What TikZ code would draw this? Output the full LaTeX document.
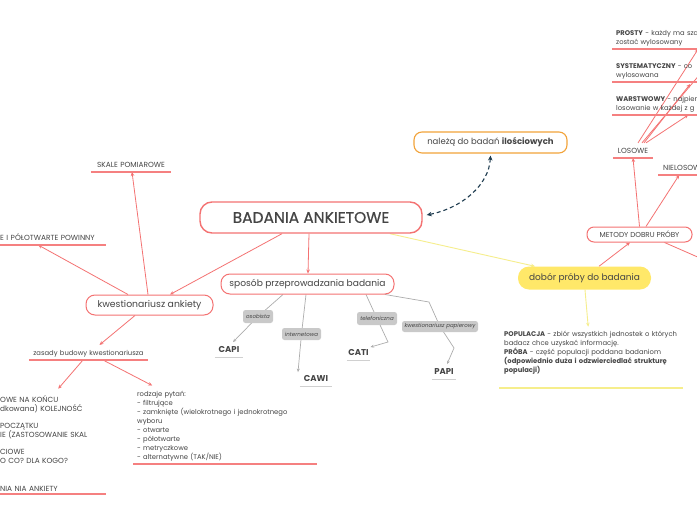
\documentclass[tikz,border=0pt]{standalone}
\usepackage{fontspec}
\setmainfont{Poppins}
\newfontfamily\medfont{Poppins}[FakeBold=0.7]
\usetikzlibrary{arrows.meta,backgrounds}
\definecolor{myred}{HTML}{F47272}
\definecolor{ulred}{HTML}{F58080}
\definecolor{txt}{HTML}{454545}
\definecolor{gline}{HTML}{ADADAD}
\definecolor{glab}{HTML}{C9C9C9}
\definecolor{ulgray}{HTML}{D0D0D0}
\definecolor{myyellow}{HTML}{FFE869}
\definecolor{yline}{HTML}{F6EE8C}
\definecolor{myorange}{HTML}{F2A33A}
\definecolor{navy}{HTML}{1D3B4F}
\newcommand\myfs[2]{\fontsize{#1}{#2}\selectfont}
\tikzset{
  mainbox/.style={draw=myred, line width=1.4pt, fill=white, rounded corners=12pt, minimum width=222pt, minimum height=31pt, inner sep=0pt, font=\medfont\myfs{15.5}{18}, text=txt},
  obox/.style={draw=myorange, line width=1.1pt, fill=white, rounded corners=8pt, minimum width=153pt, minimum height=21pt, inner sep=0pt, font=\myfs{8.5}{10}, text=txt},
  rbox/.style={draw=myred, line width=1pt, fill=white, rounded corners=9pt, inner sep=0pt, text=txt},
  ybox/.style={fill=myyellow, rounded corners=11pt, inner sep=0pt, text=txt},
  ulline/.style={draw=ulred, line width=1.1pt},
  ullineY/.style={draw=yline, line width=1.3pt},
  ullineG/.style={draw=ulgray, line width=1pt},
  ul/.style={inner xsep=0pt, inner ysep=2.5pt, text width=#1, text=txt,
    append after command={(\tikzlastnode.south west) edge[ulline] (\tikzlastnode.south east)}},
  uly/.style={inner xsep=0pt, inner ysep=2.5pt, text width=#1, text=txt,
    append after command={(\tikzlastnode.south west) edge[ullineY] (\tikzlastnode.south east)}},
  ulg/.style={inner xsep=0pt, inner ysep=2.5pt, text depth=1.5pt, text width=#1, text=txt, align=center,
    font=\myfs{8.5}{10}\bfseries,
    append after command={(\tikzlastnode.south west) edge[ullineG] (\tikzlastnode.south east)}},
  glabel/.style={fill=glab, rounded corners=2.5pt, inner sep=0pt, font=\myfs{5.5}{6}\itshape, text=txt},
  capfont/.style={font=\myfs{7.4}{9}},
  smallfont/.style={font=\myfs{6.8}{9}},
  rarr/.style={draw=myred, line width=0.8pt, -{Stealth[length=4pt,width=3.5pt]}},
  garr/.style={draw=gline, line width=0.7pt, -{Stealth[length=3.5pt,width=3pt]}},
  yarr/.style={draw=yline, line width=0.9pt, -{Stealth[length=4pt,width=3.5pt]}},
}
\begin{document}
\begin{tikzpicture}[x=1pt,y=-1pt]
\useasboundingbox (0,0) rectangle (697,520);
\begin{scope}[on background layer]
  \fill[white] (0,0) rectangle (697,520);
\end{scope}

% main nodes
\node[mainbox] (main) at (311,217.5) {BADANIA ANKIETOWE};
\node[obox] (ilosc) at (490.5,142.5) {należą do badań \textbf{ilościowych}};
\node[rbox, minimum width=173pt, minimum height=20pt, font=\myfs{9.1}{11}] (sposob) at (307.5,284) {sposób przeprowadzania badania};
\node[rbox, minimum width=127pt, minimum height=20pt, font=\myfs{9.3}{11}] (kw) at (149.5,305) {kwestionariusz ankiety};
\node[rbox, minimum width=105pt, minimum height=15pt, rounded corners=7pt, font=\myfs{7.2}{8}] (metody) at (639.5,234.5) {METODY DOBRU PRÓBY};
\node[ybox, minimum width=133pt, minimum height=23pt, font=\myfs{9}{11}] (dobor) at (584.5,278) {dobór próby do badania};

% underlined text nodes
\node[ul=80pt, align=center, anchor=south, capfont, text depth=1.5pt] (skale) at (131,172) {SKALE POMIAROWE};
\node[ul=106pt, align=left, anchor=south west, capfont, text depth=1.5pt] (powin) at (0,245) {E I PÓŁOTWARTE POWINNY};
\node[ul=119pt, align=center, anchor=south, smallfont, text depth=1.5pt] (zasady) at (88.5,360) {zasady budowy kwestionariusza};
\node[ul=106pt, align=left, anchor=south west, capfont] (lewy) at (0,494) {OWE NA KOŃCU\\dkowana) KOLEJNOŚĆ\\[8pt]POCZĄTKU\\IE (ZASTOSOWANIE SKAL\\[8pt]CIOWE\\O CO? DLA KOGO?\\[19pt]NIA NIA ANKIETY};
\node[ul=176pt, inner xsep=4pt, align=left, anchor=south west, smallfont] (rodz) at (133,464) {rodzaje pytań:\\- filtrujące\\- zamknięte (wielokrotnego i jednokrotnego\\wyboru\\- otwarte\\- półotwarte\\- metryczkowe\\- alternatywne (TAK/NIE)};
\node[uly=174pt, inner xsep=5pt, align=left, anchor=south west, smallfont] (popul) at (499,388) {\textbf{POPULACJA} - zbiór wszystkich jednostek o których\\badacz chce uzyskać informację.\\\textbf{PRÓBA} - część populacji poddana badaniom\\\textbf{(odpowiednio duża i odzwierciedlać strukturę}\\\textbf{populacji)}\\[3.5pt]\mbox{}};
\node[ul=120pt, inner xsep=4pt, align=left, anchor=south west, smallfont] (prosty) at (612,49) {\textbf{PROSTY} - każdy ma sza\\zostać wylosowany};
\node[ul=120pt, inner xsep=4pt, align=left, anchor=south west, smallfont] (syst) at (612,82) {\textbf{SYSTEMATYCZNY} - co\\wylosowana};
\node[ul=120pt, inner xsep=4pt, align=left, anchor=south west, smallfont] (warst) at (612,115) {\textbf{WARSTWOWY} - najpier\\losowanie w każdej z g};
\node[ul=40pt, align=center, anchor=south, capfont, text depth=1.5pt] (losowe) at (633,158) {LOSOWE};
\node[ul=60pt, inner xsep=5pt, align=left, anchor=south west, capfont, text depth=1.5pt] (nielos) at (658,175) {NIELOSOWE};

\node[ulg=28pt, anchor=south] (capi) at (229,357) {CAPI};
\node[ulg=32pt, anchor=south] (cawi) at (316,386) {CAWI};
\node[ulg=23pt, anchor=south] (cati) at (358.5,360) {CATI};
\node[ulg=24pt, anchor=south] (papi) at (444,379) {PAPI};

% helper coordinates
\coordinate (osobC) at (258,316.5);
\coordinate (interC) at (301.5,334);
\coordinate (telC) at (377,318.5);
\coordinate (papC) at (440,326.5);
\coordinate (catiK) at (388,342);
\coordinate (papK1) at (429,302);
\coordinate (papK2) at (454,348);
\coordinate (offR) at (725,269);
\coordinate (offL) at (712,60);

% connectors
\begin{scope}[on background layer]
\draw[rarr] ([xshift=-2pt]main.south) -- ([xshift=0.5pt]sposob.north);
\draw[rarr] ([xshift=-29pt]main.south) -- ([xshift=20.5pt]kw.north);
\draw[rarr] ([xshift=-1.5pt]kw.north) -- ([xshift=1pt]skale.south);
\draw[rarr] ([xshift=-21.5pt]kw.north) -- ([xshift=-15pt]powin.south);
\draw[rarr] ([xshift=-14.5pt]kw.south) -- ([xshift=11pt,yshift=3pt]zasady.north);
\draw[rarr] ([xshift=-5.5pt]zasady.south) -- ([xshift=5pt,yshift=4pt]lewy.north);
\draw[rarr] ([xshift=14.5pt]zasady.south) -- ([xshift=-73pt,yshift=3pt]rodz.north);
\draw[rarr] ([xshift=14.5pt]dobor.north) -- ([xshift=-9.5pt]metody.south);
\draw[rarr] ([xshift=25pt]metody.south) -- (offR);
\draw[rarr] (metody.north) -- (losowe.south);
\draw[rarr] ([xshift=6.5pt]metody.north) -- ([xshift=-14pt]nielos.south);
\draw[rarr] ([xshift=5pt,yshift=3pt]losowe.north) -- ([xshift=22pt]prosty.south);
\draw[rarr] ([xshift=9pt,yshift=3pt]losowe.north) -- (offL);
\draw[rarr] ([xshift=11pt,yshift=3pt]losowe.north) -- ([xshift=14pt,yshift=-2pt]syst.south);
\draw[rarr] ([xshift=13pt,yshift=3pt]losowe.north) -- ([xshift=12pt]warst.south);

\draw[garr] ([xshift=-24.5pt]sposob.south) -- (osobC) -- ([xshift=4pt,yshift=2pt]capi.north);
\draw[garr] ([xshift=-1.5pt]sposob.south) -- (interC) -- ([xshift=-18pt,yshift=1pt]cawi.north);
\draw[garr] ([xshift=58.5pt]sposob.south) -- (telC) -- (catiK) -- ([xshift=12pt]cati.north);
\draw[garr] ([xshift=77.5pt]sposob.south) -- (papK1) -- (papC) -- (papK2) -- ([xshift=3pt,yshift=2pt]papi.north);

\draw[yarr] ([xshift=79pt]main.south) -- ([xshift=-49.5pt]dobor.north);
\draw[yarr] ([xshift=0.5pt]dobor.south) -- ([xshift=-3pt,yshift=2pt]popul.north);

\draw[navy, line width=1.1pt, dash pattern=on 4pt off 3pt,
  {Stealth[length=5pt,width=4.5pt]}-{Stealth[length=5pt,width=4.5pt]}]
  ([yshift=-2pt]ilosc.south) .. controls (489,185) and (462,208) .. ([xshift=4pt,yshift=2.5pt]main.east);
\end{scope}

% gray labels on the connectors
\node[glabel, minimum width=30pt, minimum height=13pt] (osob) at (osobC) {osobista};
\node[glabel, minimum width=39pt, minimum height=12pt] (inter) at (interC) {internetowa};
\node[glabel, minimum width=40pt, minimum height=13pt] (tel) at (telC) {telefoniczna};
\node[glabel, minimum width=76pt, minimum height=11pt] (pap) at (papC) {kwestionariusz papierowy};
\end{tikzpicture}
\end{document}
